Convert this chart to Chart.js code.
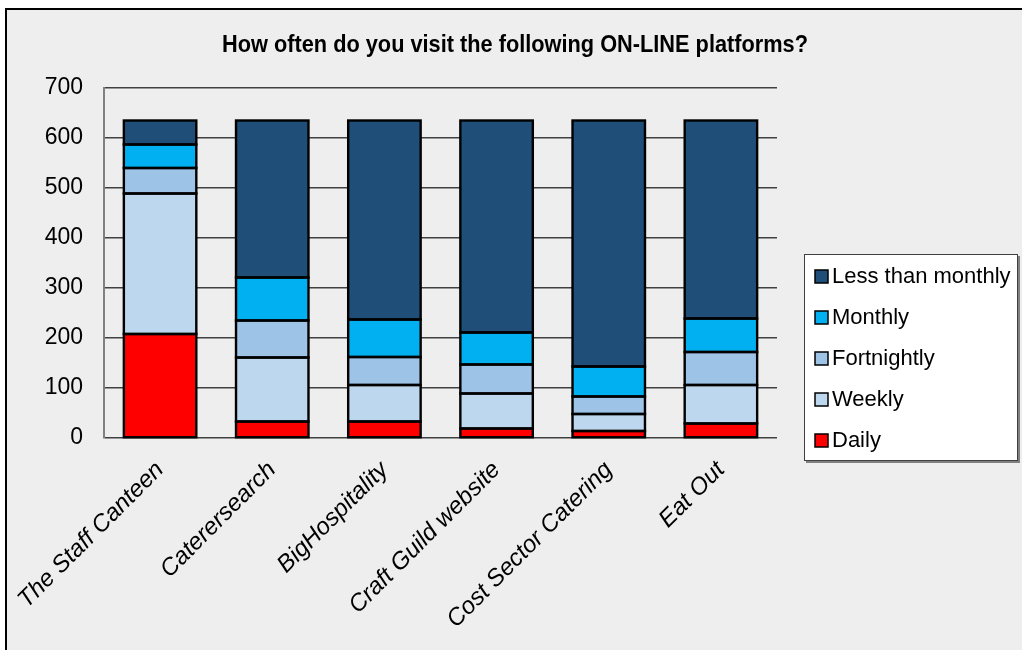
<!DOCTYPE html>
<html>
<head>
<meta charset="utf-8">
<script src="https://cdn.jsdelivr.net/npm/chart.js@4.4.1/dist/chart.umd.min.js"></script>
<style>
  html, body { margin: 0; padding: 0; background: #ffffff; }
  #wrap { position: absolute; left: 0; top: 0; width: 1022px; height: 650px; }
</style>
</head>
<body>
<div id="wrap"><canvas id="c" width="1022" height="650"></canvas></div>
<script>
const titleText = 'How often do you visit the following ON-LINE platforms?';
const categories = ['The Staff Canteen', 'Caterersearch', 'BigHospitality', 'Craft Guild website', 'Cost Sector Catering', 'Eat Out'];
const daily = [208, 33, 33, 19, 14, 29];
const weekly = [281, 128, 73, 70, 34, 77];
const fortnightly = [51, 74, 56, 58, 35, 66];
const monthly = [47, 86, 75, 64, 60, 67];
const lessThanMonthly = [48, 314, 398, 424, 492, 396];
const yTicks = [0, 100, 200, 300, 400, 500, 600, 700];

const FONT = '"Liberation Sans", Arial, sans-serif';

const frameAndTitle = {
  id: 'frameAndTitle',
  beforeDraw(chart) {
    const ctx = chart.ctx;
    ctx.save();
    ctx.fillStyle = '#ffffff';
    ctx.fillRect(0, 0, chart.width, chart.height);
    ctx.fillStyle = '#eeeeee';
    ctx.fillRect(6, 9, chart.width - 6, chart.height - 9);
    ctx.strokeStyle = '#000000';
    ctx.lineWidth = 2;
    ctx.beginPath();
    ctx.moveTo(6, chart.height);
    ctx.lineTo(6, 9);
    ctx.lineTo(chart.width, 9);
    ctx.stroke();
    // title
    ctx.font = 'bold 24px ' + FONT;
    ctx.fillStyle = '#000000';
    ctx.textAlign = 'center';
    ctx.textBaseline = 'middle';
    const w = ctx.measureText(titleText).width;
    const sx = 586 / w;
    ctx.translate(515, 45);
    ctx.scale(sx, 1);
    ctx.fillText(titleText, 0, 0);
    ctx.restore();
  },
  afterDatasetsDraw(chart) {
    const ctx = chart.ctx;
    ctx.save();
    ctx.strokeStyle = '#000000';
    ctx.lineWidth = 2.4;
    chart.data.datasets.forEach((d, di) => {
      const meta = chart.getDatasetMeta(di);
      meta.data.forEach(el => {
        const p = el.getProps(['x', 'y', 'base', 'width'], true);
        const top = Math.min(p.y, p.base), bot = Math.max(p.y, p.base);
        ctx.strokeRect(p.x - p.width / 2, top, p.width, bot - top);
      });
    });
    ctx.restore();
  },
  afterDraw(chart) {
    const ctx = chart.ctx;
    ctx.save();
    const bx = 804, by = 254, bw = 214, bh = 207;
    ctx.fillStyle = '#808080';
    ctx.fillRect(bx + 2, by + 2, bw, bh);
    ctx.fillStyle = '#ffffff';
    ctx.fillRect(bx, by, bw, bh);
    ctx.strokeStyle = '#404040';
    ctx.lineWidth = 1;
    ctx.strokeRect(bx + 0.5, by + 0.5, bw - 1, bh - 1);
    const ds = chart.data.datasets.slice().reverse();
    ctx.font = '22px ' + FONT;
    ctx.textAlign = 'left';
    ctx.textBaseline = 'middle';
    ds.forEach((d, i) => {
      const cy = 276 + i * 41;
      ctx.fillStyle = d.backgroundColor;
      ctx.fillRect(815, cy - 6, 13, 13);
      ctx.strokeStyle = '#000000';
      ctx.lineWidth = 1.5;
      ctx.strokeRect(815, cy - 6, 13, 13);
      ctx.fillStyle = '#000000';
      ctx.fillText(d.label, 832, cy + 1);
    });
    ctx.restore();
  }
};

function ds(label, data, color) {
  return {
    label, data,
    backgroundColor: color,
    borderWidth: 0,
    inflateAmount: 0,
    barPercentage: 0.646,
    categoryPercentage: 1
  };
}

new Chart(document.getElementById('c'), {
  type: 'bar',
  data: {
    labels: categories,
    datasets: [
      ds('Daily', daily, '#ff0000'),
      ds('Weekly', weekly, '#bdd7ee'),
      ds('Fortnightly', fortnightly, '#9dc3e6'),
      ds('Monthly', monthly, '#00b0f0'),
      ds('Less than monthly', lessThanMonthly, '#1f4e79')
    ]
  },
  options: {
    responsive: false,
    animation: false,
    devicePixelRatio: 1,
    layout: { padding: { left: 0, right: 245, top: 88, bottom: 0 } },
    plugins: {
      legend: { display: false },
      title: { display: false },
      tooltip: { enabled: false }
    },
    scales: {
      x: {
        stacked: true,
        grid: { display: false },
        border: { display: false },
        ticks: {
          color: '#000000',
          font: { family: FONT, size: 24, style: 'italic' },
          minRotation: 45,
          maxRotation: 45,
          padding: 10,
          autoSkip: false
        },
        afterFit(scale) { scale.height = 212; }
      },
      y: {
        stacked: true,
        min: 0,
        max: 700,
        afterBuildTicks(scale) { scale.ticks = yTicks.map(v => ({ value: v })); },
        grid: { color: '#404040', lineWidth: 1.5, drawTicks: false },
        border: { display: true, color: '#808080', width: 2 },
        ticks: {
          color: '#000000',
          font: { family: FONT, size: 23 },
          padding: 21
        },
        afterFit(scale) { scale.width = 104; }
      }
    }
  },
  plugins: [frameAndTitle]
});
</script>
</body>
</html>
